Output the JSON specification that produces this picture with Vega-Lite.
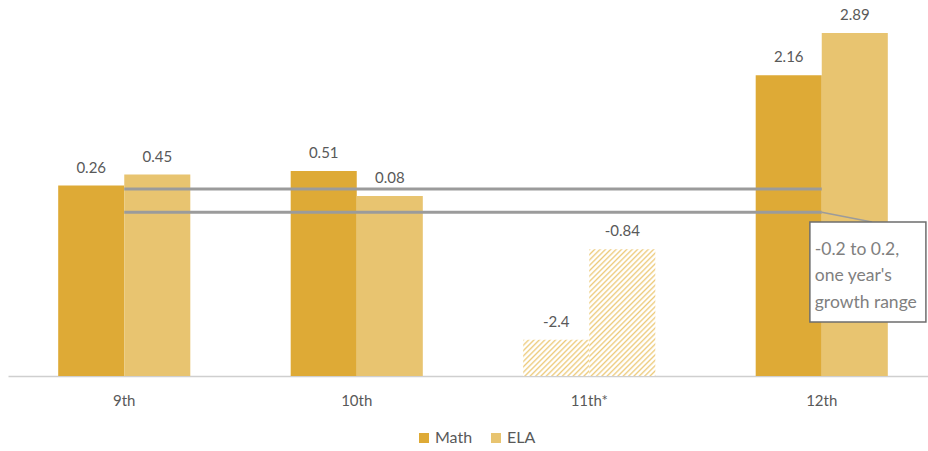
{
  "$schema": "https://vega.github.io/schema/vega-lite/v6.json",
  "autosize": "none",
  "padding": {"left": 8, "top": 0, "right": 0, "bottom": 75},
  "width": 930,
  "height": 376,
  "background": "white",
  "config": {
    "view": {"stroke": null},
    "font": "Lato",
    "axis": {"grid": false}
  },
  "data": {
    "values": [
      {"grade": "9th", "series": "Math", "value": 0.26},
      {"grade": "9th", "series": "ELA", "value": 0.45},
      {"grade": "10th", "series": "Math", "value": 0.51},
      {"grade": "10th", "series": "ELA", "value": 0.08},
      {"grade": "11th*", "series": "Math", "value": -2.4},
      {"grade": "11th*", "series": "ELA", "value": -0.84},
      {"grade": "12th", "series": "Math", "value": 2.16},
      {"grade": "12th", "series": "ELA", "value": 2.89}
    ]
  },
  "layer": [
    {
      "mark": {"type": "bar"},
      "encoding": {
        "x": {"field": "grade", "type": "nominal", "sort": ["9th", "10th", "11th*", "12th"],
          "scale": {"domain": ["9th", "10th", "11th*", "12th"], "paddingInner": 0, "paddingOuter": 0},
          "axis": {"title": null, "labelAngle": 0, "ticks": false, "tickSize": 0, "labelPadding": 17, "labelFontSize": 15, "labelColor": "#595959", "domainColor": "#cfcfcf", "domainWidth": 1.5}},
        "xOffset": {"field": "series", "type": "nominal", "sort": ["Math", "ELA"],
          "scale": {"domain": ["Math", "ELA"], "paddingInner": 0, "paddingOuter": 0.76}},
        "y": {"field": "value", "type": "quantitative", "scale": {"domain": [-3.024, 3.459], "nice": false, "zero": false}, "axis": null},
        "y2": {"datum": -3.024},
        "color": {
          "condition": [
            {"test": "datum.grade === '11th*' && datum.series === 'Math'",
             "value": {"gradient": "linear", "x1": 0, "y1": 0, "x2": 1.191, "y2": 0.6497, "stops": [
              {"offset": 0, "color": "#EDCB7C"}, {"offset": 0.02105, "color": "#FFFFFF"}, {"offset": 0.03684, "color": "#FFFFFF"},
              {"offset": 0.05263, "color": "#EDCB7C"}, {"offset": 0.07368, "color": "#FFFFFF"}, {"offset": 0.08947, "color": "#FFFFFF"},
              {"offset": 0.10526, "color": "#EDCB7C"}, {"offset": 0.12632, "color": "#FFFFFF"}, {"offset": 0.14211, "color": "#FFFFFF"},
              {"offset": 0.15789, "color": "#EDCB7C"}, {"offset": 0.17895, "color": "#FFFFFF"}, {"offset": 0.19474, "color": "#FFFFFF"},
              {"offset": 0.21053, "color": "#EDCB7C"}, {"offset": 0.23158, "color": "#FFFFFF"}, {"offset": 0.24737, "color": "#FFFFFF"},
              {"offset": 0.26316, "color": "#EDCB7C"}, {"offset": 0.28421, "color": "#FFFFFF"}, {"offset": 0.3, "color": "#FFFFFF"},
              {"offset": 0.31579, "color": "#EDCB7C"}, {"offset": 0.33684, "color": "#FFFFFF"}, {"offset": 0.35263, "color": "#FFFFFF"},
              {"offset": 0.36842, "color": "#EDCB7C"}, {"offset": 0.38947, "color": "#FFFFFF"}, {"offset": 0.40526, "color": "#FFFFFF"},
              {"offset": 0.42105, "color": "#EDCB7C"}, {"offset": 0.44211, "color": "#FFFFFF"}, {"offset": 0.45789, "color": "#FFFFFF"},
              {"offset": 0.47368, "color": "#EDCB7C"}, {"offset": 0.49474, "color": "#FFFFFF"}, {"offset": 0.51053, "color": "#FFFFFF"},
              {"offset": 0.52632, "color": "#EDCB7C"}, {"offset": 0.54737, "color": "#FFFFFF"}, {"offset": 0.56316, "color": "#FFFFFF"},
              {"offset": 0.57895, "color": "#EDCB7C"}, {"offset": 0.6, "color": "#FFFFFF"}, {"offset": 0.61579, "color": "#FFFFFF"},
              {"offset": 0.63158, "color": "#EDCB7C"}, {"offset": 0.65263, "color": "#FFFFFF"}, {"offset": 0.66842, "color": "#FFFFFF"},
              {"offset": 0.68421, "color": "#EDCB7C"}, {"offset": 0.70526, "color": "#FFFFFF"}, {"offset": 0.72105, "color": "#FFFFFF"},
              {"offset": 0.73684, "color": "#EDCB7C"}, {"offset": 0.75789, "color": "#FFFFFF"}, {"offset": 0.77368, "color": "#FFFFFF"},
              {"offset": 0.78947, "color": "#EDCB7C"}, {"offset": 0.81053, "color": "#FFFFFF"}, {"offset": 0.82632, "color": "#FFFFFF"},
              {"offset": 0.84211, "color": "#EDCB7C"}, {"offset": 0.86316, "color": "#FFFFFF"}, {"offset": 0.87895, "color": "#FFFFFF"},
              {"offset": 0.89474, "color": "#EDCB7C"}, {"offset": 0.91579, "color": "#FFFFFF"}, {"offset": 0.93158, "color": "#FFFFFF"},
              {"offset": 0.94737, "color": "#EDCB7C"}, {"offset": 0.96842, "color": "#FFFFFF"}, {"offset": 0.98421, "color": "#FFFFFF"},
              {"offset": 1, "color": "#EDCB7C"}
             ]}},
            {"test": "datum.grade === '11th*' && datum.series === 'ELA'",
             "value": {"gradient": "linear", "x1": 0, "y1": 0, "x2": 0.6241, "y2": 1.1962, "stops": [
              {"offset": 0, "color": "#EDCB7C"}, {"offset": 0.01111, "color": "#FFFFFF"}, {"offset": 0.01944, "color": "#FFFFFF"},
              {"offset": 0.02778, "color": "#EDCB7C"}, {"offset": 0.03889, "color": "#FFFFFF"}, {"offset": 0.04722, "color": "#FFFFFF"},
              {"offset": 0.05556, "color": "#EDCB7C"}, {"offset": 0.06667, "color": "#FFFFFF"}, {"offset": 0.075, "color": "#FFFFFF"},
              {"offset": 0.08333, "color": "#EDCB7C"}, {"offset": 0.09444, "color": "#FFFFFF"}, {"offset": 0.10278, "color": "#FFFFFF"},
              {"offset": 0.11111, "color": "#EDCB7C"}, {"offset": 0.12222, "color": "#FFFFFF"}, {"offset": 0.13056, "color": "#FFFFFF"},
              {"offset": 0.13889, "color": "#EDCB7C"}, {"offset": 0.15, "color": "#FFFFFF"}, {"offset": 0.15833, "color": "#FFFFFF"},
              {"offset": 0.16667, "color": "#EDCB7C"}, {"offset": 0.17778, "color": "#FFFFFF"}, {"offset": 0.18611, "color": "#FFFFFF"},
              {"offset": 0.19444, "color": "#EDCB7C"}, {"offset": 0.20556, "color": "#FFFFFF"}, {"offset": 0.21389, "color": "#FFFFFF"},
              {"offset": 0.22222, "color": "#EDCB7C"}, {"offset": 0.23333, "color": "#FFFFFF"}, {"offset": 0.24167, "color": "#FFFFFF"},
              {"offset": 0.25, "color": "#EDCB7C"}, {"offset": 0.26111, "color": "#FFFFFF"}, {"offset": 0.26944, "color": "#FFFFFF"},
              {"offset": 0.27778, "color": "#EDCB7C"}, {"offset": 0.28889, "color": "#FFFFFF"}, {"offset": 0.29722, "color": "#FFFFFF"},
              {"offset": 0.30556, "color": "#EDCB7C"}, {"offset": 0.31667, "color": "#FFFFFF"}, {"offset": 0.325, "color": "#FFFFFF"},
              {"offset": 0.33333, "color": "#EDCB7C"}, {"offset": 0.34444, "color": "#FFFFFF"}, {"offset": 0.35278, "color": "#FFFFFF"},
              {"offset": 0.36111, "color": "#EDCB7C"}, {"offset": 0.37222, "color": "#FFFFFF"}, {"offset": 0.38056, "color": "#FFFFFF"},
              {"offset": 0.38889, "color": "#EDCB7C"}, {"offset": 0.4, "color": "#FFFFFF"}, {"offset": 0.40833, "color": "#FFFFFF"},
              {"offset": 0.41667, "color": "#EDCB7C"}, {"offset": 0.42778, "color": "#FFFFFF"}, {"offset": 0.43611, "color": "#FFFFFF"},
              {"offset": 0.44444, "color": "#EDCB7C"}, {"offset": 0.45556, "color": "#FFFFFF"}, {"offset": 0.46389, "color": "#FFFFFF"},
              {"offset": 0.47222, "color": "#EDCB7C"}, {"offset": 0.48333, "color": "#FFFFFF"}, {"offset": 0.49167, "color": "#FFFFFF"},
              {"offset": 0.5, "color": "#EDCB7C"}, {"offset": 0.51111, "color": "#FFFFFF"}, {"offset": 0.51944, "color": "#FFFFFF"},
              {"offset": 0.52778, "color": "#EDCB7C"}, {"offset": 0.53889, "color": "#FFFFFF"}, {"offset": 0.54722, "color": "#FFFFFF"},
              {"offset": 0.55556, "color": "#EDCB7C"}, {"offset": 0.56667, "color": "#FFFFFF"}, {"offset": 0.575, "color": "#FFFFFF"},
              {"offset": 0.58333, "color": "#EDCB7C"}, {"offset": 0.59444, "color": "#FFFFFF"}, {"offset": 0.60278, "color": "#FFFFFF"},
              {"offset": 0.61111, "color": "#EDCB7C"}, {"offset": 0.62222, "color": "#FFFFFF"}, {"offset": 0.63056, "color": "#FFFFFF"},
              {"offset": 0.63889, "color": "#EDCB7C"}, {"offset": 0.65, "color": "#FFFFFF"}, {"offset": 0.65833, "color": "#FFFFFF"},
              {"offset": 0.66667, "color": "#EDCB7C"}, {"offset": 0.67778, "color": "#FFFFFF"}, {"offset": 0.68611, "color": "#FFFFFF"},
              {"offset": 0.69444, "color": "#EDCB7C"}, {"offset": 0.70556, "color": "#FFFFFF"}, {"offset": 0.71389, "color": "#FFFFFF"},
              {"offset": 0.72222, "color": "#EDCB7C"}, {"offset": 0.73333, "color": "#FFFFFF"}, {"offset": 0.74167, "color": "#FFFFFF"},
              {"offset": 0.75, "color": "#EDCB7C"}, {"offset": 0.76111, "color": "#FFFFFF"}, {"offset": 0.76944, "color": "#FFFFFF"},
              {"offset": 0.77778, "color": "#EDCB7C"}, {"offset": 0.78889, "color": "#FFFFFF"}, {"offset": 0.79722, "color": "#FFFFFF"},
              {"offset": 0.80556, "color": "#EDCB7C"}, {"offset": 0.81667, "color": "#FFFFFF"}, {"offset": 0.825, "color": "#FFFFFF"},
              {"offset": 0.83333, "color": "#EDCB7C"}, {"offset": 0.84444, "color": "#FFFFFF"}, {"offset": 0.85278, "color": "#FFFFFF"},
              {"offset": 0.86111, "color": "#EDCB7C"}, {"offset": 0.87222, "color": "#FFFFFF"}, {"offset": 0.88056, "color": "#FFFFFF"},
              {"offset": 0.88889, "color": "#EDCB7C"}, {"offset": 0.9, "color": "#FFFFFF"}, {"offset": 0.90833, "color": "#FFFFFF"},
              {"offset": 0.91667, "color": "#EDCB7C"}, {"offset": 0.92778, "color": "#FFFFFF"}, {"offset": 0.93611, "color": "#FFFFFF"},
              {"offset": 0.94444, "color": "#EDCB7C"}, {"offset": 0.95556, "color": "#FFFFFF"}, {"offset": 0.96389, "color": "#FFFFFF"},
              {"offset": 0.97222, "color": "#EDCB7C"}, {"offset": 0.98333, "color": "#FFFFFF"}, {"offset": 0.99167, "color": "#FFFFFF"},
              {"offset": 1, "color": "#EDCB7C"}
             ]}}
          ],
          "field": "series", "type": "nominal",
          "scale": {"domain": ["Math", "ELA"], "range": ["#DEAA36", "#E8C470"]},
          "legend": {"title": null, "orient": "none", "legendX": 408, "legendY": 430, "direction": "horizontal", "symbolType": "square", "symbolSize": 100, "labelFontSize": 16, "labelColor": "#595959", "labelOffset": 3, "columnPadding": 15, "symbolStrokeWidth": 0}
        }
      }
    },
    {
      "mark": {"type": "text", "baseline": "alphabetic", "dy": -13, "fontSize": 15, "color": "#595959"},
      "encoding": {
        "x": {"field": "grade", "type": "nominal", "title": null},
        "xOffset": {"field": "series", "type": "nominal"},
        "y": {"field": "value", "type": "quantitative", "axis": null},
        "text": {"field": "value", "type": "nominal"}
      }
    },
    {
      "data": {"values": [{"bound": 0.2}, {"bound": -0.2}]},
      "mark": {"type": "rule", "color": "#9B9B9B", "strokeWidth": 3},
      "encoding": {
        "x": {"datum": "9th", "type": "nominal", "bandPosition": 0.5, "title": null},
        "x2": {"datum": "12th", "bandPosition": 0.5},
        "y": {"field": "bound", "type": "quantitative", "axis": null}
      }
    },
    {
      "data": {"values": [{"note": "leader"}]},
      "mark": {"type": "rule", "color": "#9B9B9B", "strokeWidth": 1.5},
      "encoding": {
        "x": {"datum": "12th", "type": "nominal", "bandPosition": 0.5, "title": null},
        "x2": {"datum": "12th", "bandPosition": 0.716},
        "y": {"datum": -0.2, "type": "quantitative", "axis": null},
        "y2": {"datum": -0.369}
      }
    },
    {
      "data": {"values": [{"note": "box"}]},
      "mark": {"type": "rect", "fill": "white", "stroke": "#6E6E6E", "strokeWidth": 1.5},
      "encoding": {
        "x": {"datum": "12th", "type": "nominal", "bandPosition": 0.449, "title": null},
        "x2": {"datum": "12th", "bandPosition": 0.948},
        "y": {"datum": -0.369, "type": "quantitative", "axis": null},
        "y2": {"datum": -2.093}
      }
    },
    {
      "data": {"values": [{"note": ["-0.2 to 0.2,", "one year's", "growth range"]}]},
      "mark": {"type": "text", "align": "left", "baseline": "alphabetic", "fontSize": 17.5, "lineHeight": 26.5, "color": "#808080"},
      "encoding": {
        "x": {"datum": "12th", "type": "nominal", "bandPosition": 0.47, "title": null},
        "y": {"datum": -0.93, "type": "quantitative", "axis": null},
        "text": {"field": "note"}
      }
    }
  ]
}
